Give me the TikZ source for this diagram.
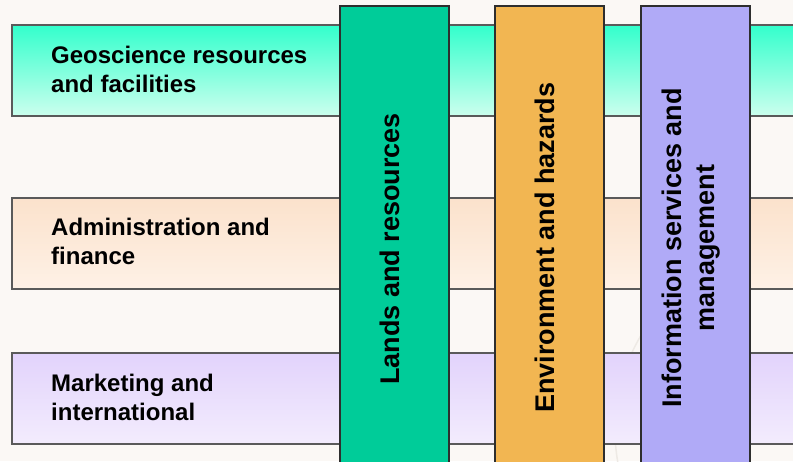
\documentclass[tikz,border=0pt]{standalone}
\usepackage{fontspec}
\setmainfont{Liberation Sans}
\usepackage{xcolor}
\usepackage{tikz}
\definecolor{paper}{HTML}{FBF8F5}
\definecolor{ghost}{HTML}{EEEAE5}
\definecolor{edge}{HTML}{5A5A5A}
\definecolor{coledge}{HTML}{2E2E2E}
\definecolor{aquatop}{HTML}{33FFCC}
\definecolor{aquabot}{HTML}{CCFFEE}
\definecolor{peachtop}{HTML}{FBE2CC}
\definecolor{peachbot}{HTML}{FEF1E6}
\definecolor{liltop}{HTML}{E2D3FC}
\definecolor{lilbot}{HTML}{F3ECFD}
\definecolor{green}{HTML}{00CC99}
\definecolor{orange}{HTML}{F2B652}
\definecolor{violet}{HTML}{B0AAF7}
\tikzset{
  band/.style={draw=edge, line width=1.2pt},
  col/.style={draw=coledge, line width=1.6pt},
  lab/.style={font=\fontsize{24}{29}\selectfont\bfseries, align=left, anchor=west, inner sep=0pt},
  vlab/.style={font=\fontsize{27}{33}\selectfont\bfseries, align=center, rotate=90, inner sep=0pt},
}

\begin{document}
\begin{tikzpicture}[x=1pt,y=-1pt]
  \fill[paper] (0,0) rectangle (793,461);
  \useasboundingbox (0,0) rectangle (793,461);
  \draw[ghost, line width=1.5pt] (800,430) circle (185);
  % horizontal bands
  \shade[band, top color=aquatop, bottom color=aquabot] (12,25) rectangle (805,116);
  \shade[band, top color=peachtop, bottom color=peachbot] (12,198) rectangle (805,289);
  \shade[band, top color=liltop, bottom color=lilbot] (12,353) rectangle (805,444);
  \node[lab] (geo) at (51,69) {Geoscience resources\\and facilities};
  \node[lab] (admin) at (51,241) {Administration and\\finance};
  \node[lab] (market) at (51,397) {Marketing and\\international};
  % vertical columns
  \draw[col, fill=green] (340,6) rectangle (449,475);
  \draw[col, fill=orange] (495,6) rectangle (604,475);
  \draw[col, fill=violet] (641,6) rectangle (750,475);
  \node[vlab] (lands) at (390,249) {Lands and resources};
  \node[vlab] (env) at (545,247.5) {Environment and hazards};
  \node[vlab] (info) at (691.5,248) {Information services and\\management};
\end{tikzpicture}
\end{document}
